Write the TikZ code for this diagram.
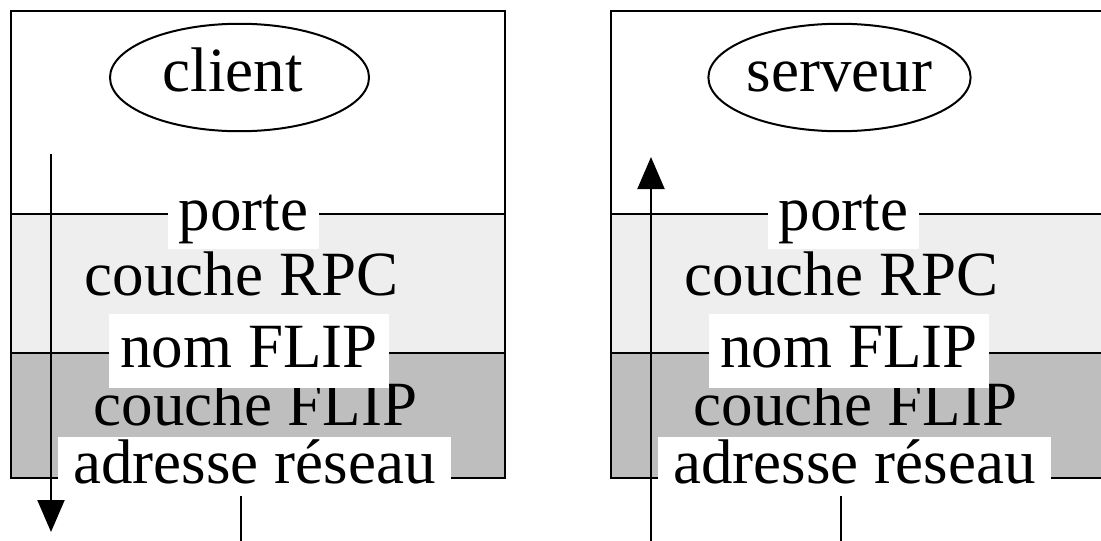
\documentclass[tikz,border=0pt]{standalone}
\usepackage{fontspec}
\setmainfont{Liberation Serif}
\usetikzlibrary{shapes.geometric,arrows.meta}
\definecolor{rpcgray}{HTML}{EEEEEE}
\definecolor{flipgray}{HTML}{BEBEBE}
\begin{document}
\begin{tikzpicture}[x=1pt,y=-1pt,
  every node/.style={inner sep=0pt,font=\fontsize{63}{70}\selectfont},
  frame/.style={draw=black,line width=2pt},
  role/.style={ellipse,draw=black,line width=2pt,minimum width=259pt,minimum height=107pt,
               inner ysep=11.5pt,text height=40pt,text depth=13pt},
  layer/.style={anchor=base},
  iface/.style={anchor=base,fill=white},
  flow/.style={draw=black,line width=2pt,-{Triangle[width=27pt,length=32pt]}},
  tap/.style={draw=black,line width=2pt}]
\useasboundingbox (0,0) rectangle (1101,541);

% ---------- client stack ----------
\fill[rpcgray]  (11,214) rectangle (505,353);
\fill[flipgray] (11,353) rectangle (505,478);
\draw[frame] (11,11) rectangle (505,478);
\draw[frame] (11,214) -- (505,214);
\draw[frame] (11,353) -- (505,353);

\node[role] (cli) at (239.5,77.5) {client\hspace*{14pt}};
\node[layer] (rpcL)  at (241.5,295) {couche RPC};
\node[layer] (flipL) at (255.5,425) {couche FLIP};
\node[iface,minimum width=151pt,text height=35pt,text depth=19pt] (portL) at (243.5,230) {porte};
\node[iface,minimum width=280pt,text height=53pt,text depth=21pt] (nomL)  at (249,367) {nom FLIP};
\node[iface,minimum width=393pt,text height=46pt,text depth=13pt] (adrL)  at (254.5,483) {adresse réseau};

\coordinate (downTop) at (51,154);
\coordinate (downEnd) at (51,532);
\draw[flow] (downTop) -- (downEnd);
\coordinate (tapL) at (241,541);
\draw[tap] (tapL) -- (tapL |- adrL.south);

% ---------- server stack ----------
\fill[rpcgray]  (611,214) rectangle (1105,353);
\fill[flipgray] (611,353) rectangle (1105,478);
\draw[frame] (611,11) rectangle (1105,478);
\draw[frame] (611,214) -- (1105,214);
\draw[frame] (611,353) -- (1105,353);

\node[role] (srv) at (839.5,77.5) {serveur};
\node[layer] (rpcR)  at (841.5,295) {couche RPC};
\node[layer] (flipR) at (855.5,425) {couche FLIP};
\node[iface,minimum width=151pt,text height=35pt,text depth=19pt] (portR) at (843.5,230) {porte};
\node[iface,minimum width=280pt,text height=53pt,text depth=21pt] (nomR)  at (849,367) {nom FLIP};
\node[iface,minimum width=393pt,text height=46pt,text depth=13pt] (adrR)  at (854.5,483) {adresse réseau};

\coordinate (upStart) at (651,541);
\coordinate (upTop) at (651,157);
\draw[flow] (upStart) -- (upTop);
\coordinate (tapR) at (841,541);
\draw[tap] (tapR) -- (tapR |- adrR.south);
\end{tikzpicture}
\end{document}
